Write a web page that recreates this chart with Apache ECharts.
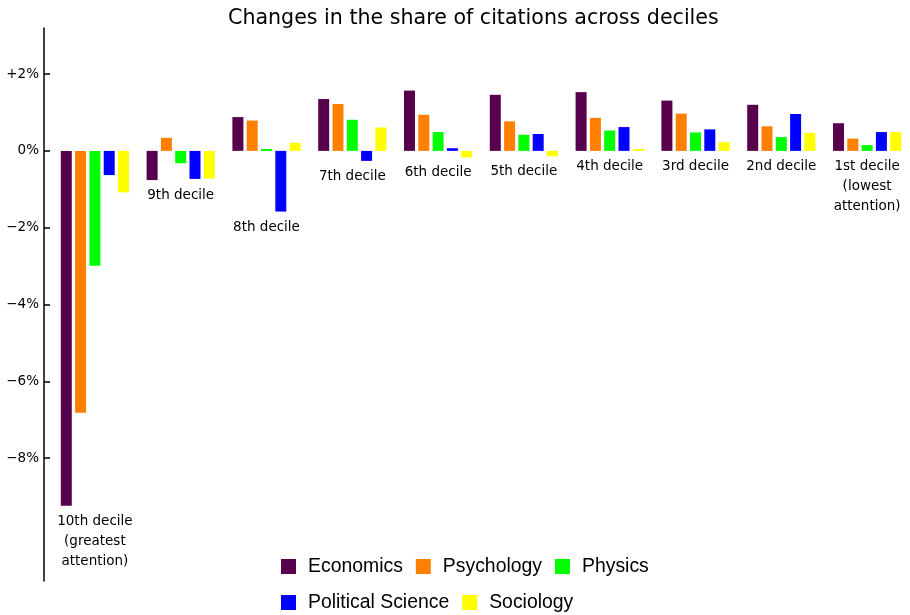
<!DOCTYPE html>
<html>
<head>
<meta charset="utf-8">
<title>Changes in the share of citations across deciles</title>
<script src="https://cdn.jsdelivr.net/npm/echarts@6/dist/echarts.min.js"></script>
<style>
  html, body { margin: 0; padding: 0; background: #fff; }
  #chart { width: 910px; height: 615px; }
</style>
</head>
<body>
<div id="chart"></div>
<script>
// categories (10th decile = greatest attention ... 1st = lowest)
const deciles = [
    '10th decile\n(greatest\nattention)', '9th decile', '8th decile', '7th decile', '6th decile',
    '5th decile', '4th decile', '3rd decile', '2nd decile', '1st decile\n(lowest\nattention)'
];

// change in share of citations, in percentage points
const economics        = [-9.24, -0.76, 0.88, 1.35, 1.57, 1.46, 1.53, 1.31, 1.20, 0.72];
const psychology       = [-6.82, 0.34, 0.79, 1.22, 0.94, 0.77, 0.86, 0.97, 0.64, 0.32];
const physics          = [-2.99, -0.32, 0.05, 0.81, 0.49, 0.42, 0.53, 0.48, 0.36, 0.15];
const politicalScience = [-0.63, -0.73, -1.58, -0.26, 0.07, 0.44, 0.62, 0.56, 0.96, 0.49];
const sociology        = [-1.08, -0.72, 0.21, 0.61, -0.17, -0.14, 0.05, 0.23, 0.47, 0.49];

const yTicks = [-8, -6, -4, -2, 0, 2];

const fields = [
    { name: 'Economics', data: economics, color: '#56004e' },
    { name: 'Psychology', data: psychology, color: '#ff8000' },
    { name: 'Physics', data: physics, color: '#00ff00' },
    { name: 'Political Science', data: politicalScience, color: '#0000ff' },
    { name: 'Sociology', data: sociology, color: '#ffff00' }
];

// the decile label sits under the lowest bar of each group
const labelAnchors = deciles.map((d, i) => [i, Math.min(0, ...fields.map(f => f.data[i]))]);

const chart = echarts.init(document.getElementById('chart'));

function fmtPct(v) {
    if (v > 0) return '+' + v + '%';
    if (v < 0) return '\u2212' + (-v) + '%';
    return '0%';
}

const legendCommon = {
    icon: 'rect',
    itemWidth: 15,
    itemHeight: 15,
    itemGap: 13,
    padding: 0,
    left: 281,
    textStyle: { fontSize: 19.4, fontFamily: 'Liberation Sans', color: '#000', padding: [0, 0, 0, 7] }
};

const option = {
    backgroundColor: '#fff',
    animation: false,
    title: {
        text: 'Changes in the share of citations across deciles',
        left: 223,
        top: 3,
        textStyle: { fontSize: 20.6, fontWeight: 'normal', fontFamily: 'DejaVu Sans', color: '#000' }
    },
    legend: [
        Object.assign({ top: 557, data: ['Economics', 'Psychology', 'Physics'] }, legendCommon),
        Object.assign({ top: 593, data: ['Political Science', 'Sociology'] }, legendCommon)
    ],
    grid: { left: 52, right: -3, top: 28, bottom: 34 },
    xAxis: {
        type: 'category',
        data: deciles,
        axisLine: { show: false },
        axisTick: { show: false },
        axisLabel: { show: false },
        splitLine: { show: false }
    },
    yAxis: {
        type: 'value',
        min: -11.2,
        max: 3.2,
        offset: 8,
        axisLine: { show: true, lineStyle: { color: '#000', width: 1.5 } },
        axisTick: { show: true, inside: true, length: 6, customValues: yTicks, lineStyle: { color: '#000', width: 1.5 } },
        axisLabel: {
            customValues: yTicks,
            formatter: fmtPct,
            margin: 5,
            fontSize: 13.5,
            fontFamily: 'DejaVu Sans',
            color: '#000'
        },
        splitLine: { show: false }
    },
    series: fields.map(f => ({
        type: 'bar',
        name: f.name,
        data: f.data,
        barWidth: 11,
        barGap: '30%',
        itemStyle: { color: f.color },
        silent: true
    })).concat([{
        type: 'scatter',
        name: 'labels',
        data: labelAnchors,
        symbolSize: 1,
        itemStyle: { color: 'rgba(255,255,255,0)', opacity: 1 },
        silent: true,
        z: 5,
        label: {
            show: true,
            position: 'bottom',
            distance: 5,
            formatter: p => deciles[p.dataIndex],
            fontSize: 13.5,
            lineHeight: 20,
            fontFamily: 'DejaVu Sans',
            color: '#000',
            opacity: 1,
            textBorderWidth: 0,
            align: 'center'
        }
    }])
};

chart.setOption(option);
</script>
</body>
</html>
